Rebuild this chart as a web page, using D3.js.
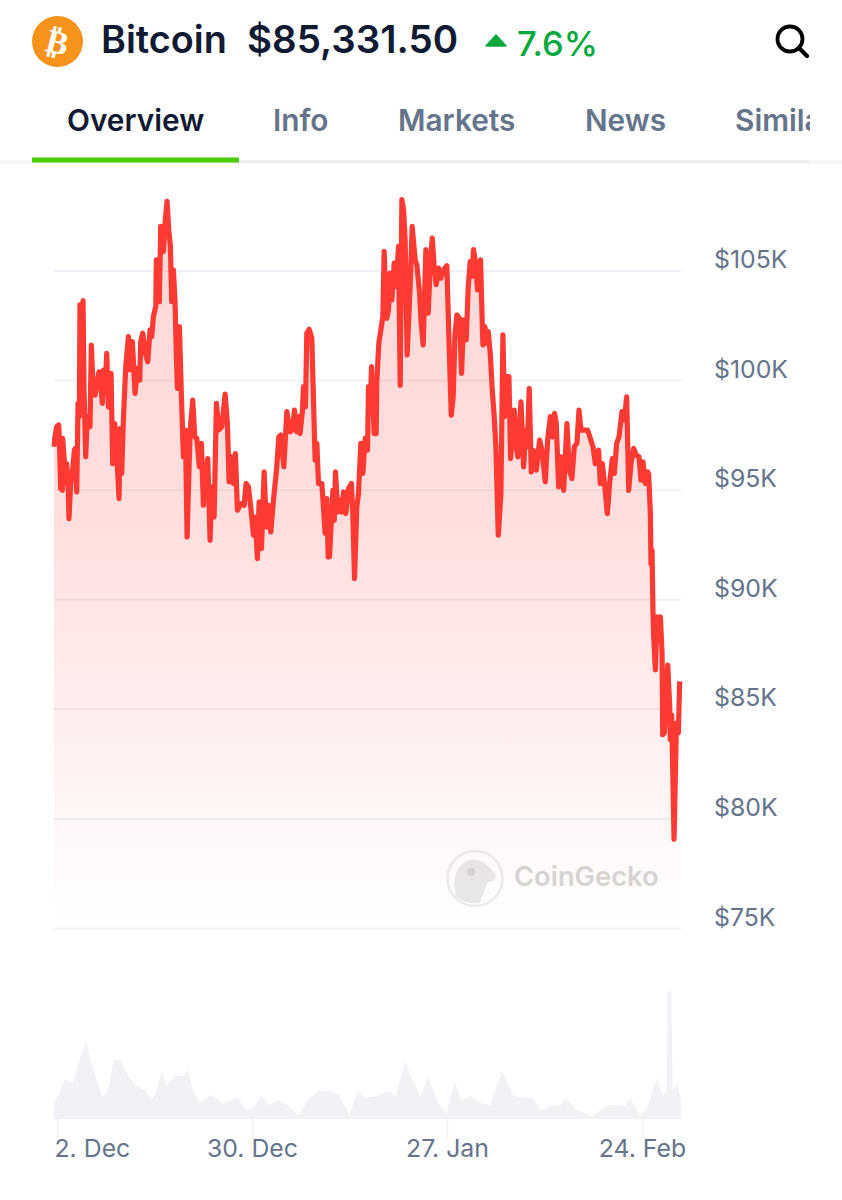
<!DOCTYPE html>
<html>
<head>
<meta charset="utf-8">
<script src="https://cdn.jsdelivr.net/npm/d3@7"></script>
<style>
  html, body { margin: 0; padding: 0; background: #fff; }
  svg { display: block; font-family: Inter, "Noto Sans", sans-serif; }
</style>
</head>
<body>
<svg id="chart" width="842" height="1200"></svg>
<script>
// days counted from 2 Dec, price in $K
const dayOffset = [-0.43,-0.29,-0.05,0.24,0.34,0.53,0.77,0.81,1.01,1.29,1.39,1.58,1.72,1.96,2.25,2.49,2.63,2.83,3.02,3.21,3.30,3.50,3.74,3.88,4.12,4.36,4.74,4.93,5.22,5.46,6.03,6.32,6.51,6.66,6.90,7.14,7.38,7.76,8.00,8.29,8.57,8.91,9.05,9.29,9.53,9.87,10.25,10.49,10.82,11.21,11.54,11.88,12.02,12.31,12.69,13.03,13.36,13.60,13.84,14.18,14.27,14.46,14.70,14.89,15.28,15.56,15.80,16.04,16.28,16.47,16.71,16.95,17.14,17.29,17.58,17.82,18.15,18.44,18.68,19.11,19.49,19.78,20.07,20.45,20.74,21.02,21.36,21.65,21.98,22.22,22.56,22.89,23.23,23.66,24.14,24.47,24.71,25.05,25.33,25.62,25.91,26.39,26.87,27.15,27.49,27.82,28.21,28.45,28.78,29.02,29.36,29.74,30.07,30.36,30.70,31.08,31.56,31.85,32.13,32.57,33.00,33.48,33.81,34.10,34.43,34.77,34.91,35.25,35.39,35.68,35.87,36.21,36.59,36.92,37.07,37.31,37.55,38.03,38.26,38.50,38.74,38.94,39.13,39.61,39.80,39.99,40.32,40.66,40.90,41.14,41.47,41.86,42.29,42.48,42.72,43.05,43.29,43.63,43.92,44.25,44.59,44.73,44.97,45.16,45.54,45.83,45.93,46.21,46.50,46.79,46.98,47.17,47.36,47.60,47.84,48.08,48.42,48.70,49.04,49.28,49.52,49.76,49.99,50.28,50.71,51.00,51.43,51.67,52.06,52.30,52.58,52.97,53.30,53.59,53.88,54.16,54.45,54.79,55.12,55.51,55.98,56.27,56.61,56.89,57.13,57.42,57.80,58.09,58.38,58.76,59.05,59.34,59.58,59.81,60.10,60.39,60.82,61.06,61.16,61.44,61.63,61.92,62.21,62.50,62.78,63.02,63.36,63.74,64.03,64.27,64.60,64.89,65.13,65.66,65.94,66.18,66.62,67.00,67.29,67.53,67.81,68.10,68.39,68.82,69.30,69.63,70.11,70.45,70.83,71.12,71.45,71.69,72.03,72.36,72.75,73.22,73.56,73.94,74.28,74.66,74.95,75.24,75.62,76.19,76.58,76.96,77.29,77.77,78.01,78.30,78.64,79.02,79.35,79.74,80.02,80.36,80.70,81.13,81.46,81.80,82.09,82.42,82.80,83.18,83.57,83.85,84.14,84.48,84.81,84.96,85.20,85.29,85.44,85.58,85.68,85.92,86.16,86.40,86.64,86.88,86.97,87.21,87.69,87.98,88.07,88.26,88.60,88.94,89.22,89.41];
const priceK = [96.96,97.41,97.87,97.95,97.34,95.05,94.97,97.34,96.50,95.28,96.19,95.43,93.68,95.28,95.89,96.80,96.88,94.90,98.94,98.33,103.43,101.53,103.63,99.55,96.50,98.33,97.87,101.60,99.39,99.32,100.38,99.70,98.94,100.46,99.39,101.22,98.78,100.31,96.19,98.02,96.65,94.59,97.79,95.74,98.17,100.61,101.98,100.46,101.76,99.39,100.54,100.00,101.76,102.14,101.22,100.84,102.29,101.98,102.90,103.36,105.49,103.58,103.58,107.01,105.87,107.32,108.16,106.86,106.10,103.58,105.03,103.58,101.07,99.62,102.44,99.70,96.50,97.72,92.84,97.64,99.09,97.41,97.34,96.04,97.11,94.29,95.58,96.42,92.69,95.13,93.75,98.94,97.72,97.87,99.36,98.02,95.36,96.50,95.28,96.65,94.06,94.36,94.29,95.28,95.13,94.21,92.92,93.75,91.85,94.44,92.31,95.81,93.30,94.29,93.07,94.52,96.04,97.41,97.49,96.04,98.56,97.64,97.72,98.63,97.64,98.33,97.56,98.63,99.70,98.78,102.14,102.32,101.91,98.02,96.35,97.11,95.28,95.28,94.21,93.01,94.59,91.93,91.93,94.97,93.60,95.81,93.98,94.52,93.98,94.90,93.91,95.05,95.28,93.83,90.94,94.21,94.82,97.11,95.74,97.34,96.80,99.70,98.63,100.61,97.56,97.56,100.00,101.68,102.29,102.90,105.87,104.11,102.82,103.20,104.88,103.66,105.34,104.27,106.10,99.77,108.23,107.78,106.40,101.15,104.27,107.01,105.49,105.26,103.97,102.59,101.60,105.95,103.05,105.18,106.48,105.18,104.35,105.11,104.65,105.03,105.22,101.98,98.40,99.24,101.98,102.97,102.82,100.31,102.75,101.83,104.27,105.41,104.73,105.95,105.34,104.11,105.49,102.59,101.60,102.44,101.68,102.21,101.22,99.55,98.33,96.96,92.92,94.82,102.06,98.33,100.16,100.16,96.42,98.63,96.96,96.50,99.01,96.04,97.72,96.96,99.62,95.81,96.80,95.89,97.26,96.80,95.36,97.26,98.33,97.41,98.48,98.02,95.13,96.50,94.97,98.02,95.89,95.51,96.96,97.11,98.63,97.72,97.72,97.72,97.34,96.96,96.19,96.80,95.28,96.19,95.20,93.91,95.28,96.42,95.74,97.11,97.41,98.56,98.17,99.24,94.97,96.19,96.88,96.57,96.50,95.43,96.27,95.28,95.81,95.71,93.90,91.62,92.23,89.35,88.29,86.78,89.20,88.14,89.20,87.53,83.82,83.90,87.00,85.11,83.60,84.73,79.05,84.35,83.90,86.25];

const volDay = [-0.45,0.28,1.06,1.91,2.27,3.30,4.21,4.81,5.71,6.50,7.23,8.14,9.05,9.96,11.16,12.67,13.58,14.18,15.09,15.69,16.9,18.11,18.84,19.63,20.53,22.04,23.86,25.07,25.97,27.18,28.09,29.29,30.50,31.71,33.22,34.73,35.94,37.45,39.27,40.48,41.99,43.2,44.1,45.92,47.43,48.63,50.02,51.05,52.26,53.29,54.68,55.89,57.1,58.0,59.5,60.7,62.2,63.9,65.6,67.1,68.3,69.5,71.0,72.2,73.1,74.6,76.8,79.2,81.6,82.3,83.7,84.9,86.1,87.0,87.5,87.7,88.2,88.4,89.1,89.6];
const volB = [16,24,39,38,36,61,78,59,39,23,26,59,59,46,34,29,19,26,49,33,43,43,49,26,16,24,16,19,21,9,11,23,14,19,13,3,19,28,28,24,4,29,21,23,28,23,59,39,23,43,16,6,38,19,23,16,14,48,23,21,21,8,14,13,21,9,3,14,13,21,3,13,41,23,28,128,128,29,36,19];

const priceTicks = [75, 80, 85, 90, 95, 100, 105];
const dateTicks = [0, 28, 56, 84];
const dateLabels = ["2. Dec", "30. Dec", "27. Jan", "24. Feb"];
const tabNames = ["Overview", "Info", "Markets", "News", "Similar"];
const tabX = [67, 273, 398, 585, 735];

const svg = d3.select("#chart");
const x = d3.scaleLinear().domain([0, 84]).range([57, 642]);
const y = d3.scaleLinear().domain([75, 105]).range([928, 270.5]);
const yVol = d3.scaleLinear().domain([0, 128]).range([1119, 991]);

const defs = svg.append("defs");
const grad = defs.append("linearGradient")
  .attr("id", "areaFill").attr("x1", 0).attr("y1", 0).attr("x2", 0).attr("y2", 1);
grad.append("stop").attr("offset", "0%").attr("stop-color", "#ff3a33").attr("stop-opacity", 0.2);
grad.append("stop").attr("offset", "45%").attr("stop-color", "#ff3a33").attr("stop-opacity", 0.16);
grad.append("stop").attr("offset", "100%").attr("stop-color", "#ff3a33").attr("stop-opacity", 0);
defs.append("clipPath").attr("id", "tabClip")
  .append("rect").attr("x", 0).attr("y", 80).attr("width", 810).attr("height", 90);

drawHeader();
drawTabs();
drawPriceAxis();
drawWatermark();
drawPrice();
drawVolume();
drawDateAxis();

function drawHeader() {
  const icon = svg.append("g").attr("transform", "translate(57.5,41.5)");
  icon.append("circle").attr("r", 25.5).attr("fill", "#f7931a");
  icon.append("text").text("₿")
    .attr("transform", "rotate(14)")
    .attr("text-anchor", "middle").attr("y", 12)
    .attr("font-family", "'DejaVu Sans'").attr("font-size", 33).attr("font-weight", 700)
    .attr("fill", "#fff");

  svg.append("text").text("Bitcoin").attr("x", 101).attr("y", 53)
    .attr("font-size", 37.8).attr("font-weight", 600).attr("fill", "#111a33");
  svg.append("text").text("$85,331.50").attr("x", 247).attr("y", 53)
    .attr("font-size", 38.5).attr("font-weight", 600).attr("fill", "#111a33");

  svg.append("path").attr("d", "M486,46 L496,35 L506,46 Z")
    .attr("fill", "#00a83e").attr("stroke", "#00a83e").attr("stroke-width", 1.5).attr("stroke-linejoin", "round");
  svg.append("text").text("7.6%").attr("x", 517).attr("y", 56)
    .attr("font-size", 34.5).attr("font-weight", 500).attr("fill", "#00a83e");

  const search = svg.append("g").attr("fill", "none").attr("stroke", "#000").attr("stroke-linecap", "round");
  search.append("circle").attr("cx", 790).attr("cy", 39).attr("r", 12.5).attr("stroke-width", 3.8);
  search.append("line").attr("x1", 799).attr("y1", 48).attr("x2", 807).attr("y2", 56).attr("stroke-width", 4.2);
}

function drawTabs() {
  svg.append("rect").attr("x", 0).attr("y", 160).attr("width", 842).attr("height", 4).attr("fill", "#f5f6f9");
  svg.append("rect").attr("x", 32).attr("y", 160).attr("width", 778).attr("height", 3).attr("fill", "#eceef3");
  svg.append("rect").attr("x", 32).attr("y", 157.5).attr("width", 207).attr("height", 5).attr("fill", "#4bcc00");

  svg.append("g").attr("clip-path", "url(#tabClip)")
    .selectAll("text")
    .data(tabNames)
    .join("text")
    .text(d => d)
    .attr("x", (d, i) => tabX[i])
    .attr("y", 131)
    .attr("font-size", 29.8)
    .attr("font-weight", 600)
    .attr("fill", (d, i) => i === 0 ? "#111a33" : "#64748b");
}

function drawPriceAxis() {
  const axis = d3.axisRight(y)
    .tickValues(priceTicks)
    .tickSize(627)
    .tickPadding(33)
    .tickFormat(d => `$${d}K`);

  const g = svg.append("g")
    .attr("transform", "translate(54,0)")
    .call(axis);
  g.select(".domain").remove();
  g.selectAll(".tick line").attr("stroke", "#f0f1f5").attr("stroke-width", 2);
  g.selectAll(".tick text")
    .attr("dy", "-0.12em")
    .attr("font-family", "Inter, 'Noto Sans', sans-serif")
    .attr("font-size", 24.8)
    .attr("fill", "#64748b");
}

function drawWatermark() {
  const mark = svg.append("g");
  mark.append("circle").attr("cx", 475).attr("cy", 878.5).attr("r", 27.5)
    .attr("fill", "#fff").attr("fill-opacity", 0.6)
    .attr("stroke", "#ececec").attr("stroke-width", 2.5);
  mark.append("path")
    .attr("d", "M456,896 C452,878 456,864 470,860 C480,857 488,866 494,872 C498,876 495,882 488,882 C484,890 482,898 480,903 C470,904 462,902 456,896 Z")
    .attr("fill", "#e9e9e9");
  mark.append("circle").attr("cx", 471).attr("cy", 872).attr("r", 4).attr("fill", "#d4d4d4");
  mark.append("text").text("CoinGecko").attr("x", 514).attr("y", 886)
    .attr("font-size", 27.3).attr("font-weight", 600).attr("fill", "#d6d6d6");
}

function drawPrice() {
  const series = dayOffset.map((d, i) => [d, priceK[i]]);

  const area = d3.area()
    .x(d => x(d[0]))
    .y0(y(75))
    .y1(d => y(d[1]));
  const line = d3.line()
    .x(d => x(d[0]))
    .y(d => y(d[1]));

  svg.append("path").datum(series).attr("d", area).attr("fill", "url(#areaFill)");
  svg.append("path").datum(series).attr("d", line)
    .attr("fill", "none")
    .attr("stroke", "#ff3a33")
    .attr("stroke-width", 5.2)
    .attr("stroke-linejoin", "round");
}

function drawVolume() {
  const series = volDay.map((d, i) => [d, volB[i]]);
  const area = d3.area()
    .x(d => x(d[0]))
    .y0(yVol(0))
    .y1(d => yVol(d[1]));
  svg.append("path").datum(series).attr("d", area).attr("fill", "#f0f2f5");
}

function drawDateAxis() {
  const axis = d3.axisBottom(x)
    .tickValues(dateTicks)
    .tickSize(19)
    .tickPadding(1)
    .tickFormat((d, i) => dateLabels[i]);

  const g = svg.append("g")
    .attr("transform", `translate(0,${yVol(0)})`)
    .call(axis);
  g.select(".domain").remove();
  g.selectAll(".tick line").attr("stroke", "#f0f1f5").attr("stroke-width", 1.5);
  g.selectAll(".tick text")
    .attr("font-family", "Inter, 'Noto Sans', sans-serif")
    .attr("font-size", 24.8)
    .attr("fill", "#64748b")
    .attr("text-anchor", (d, i) => i === 0 ? "start" : "middle")
    .attr("dx", (d, i) => i === 0 ? -3 : 0);
}
</script>
</body>
</html>
